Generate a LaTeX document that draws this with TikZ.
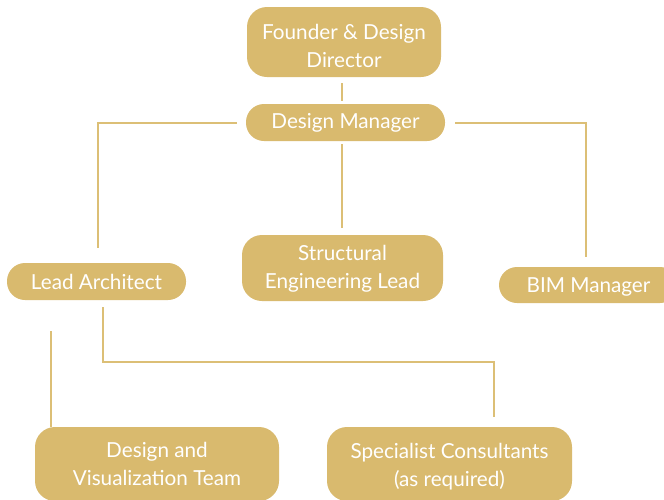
\documentclass[tikz,border=0pt]{standalone}
\usepackage{fontspec}
\setmainfont{Lato}
\usetikzlibrary{calc}
\definecolor{gold}{RGB}{217,186,110}
\definecolor{goldline}{RGB}{220,191,118}
\newcommand{\downby}[1]{\rule{0pt}{\dimexpr\fontcharht\font`A+#1\relax}}
\begin{document}
\begin{tikzpicture}[x=1pt,y=-1pt,
  box/.style={fill=gold,text=white,inner sep=0pt,align=center,
    font=\fontsize{20.7}{28}\selectfont},
  link/.style={draw=goldline,line width=2pt}]
\useasboundingbox (0,0) rectangle (664,499);
\node[box,minimum width=194pt,minimum height=70pt,rounded corners=20pt] (fd) at (344,42) {\downby{8pt}Founder \& Design\\Director};
\node[box,minimum width=199pt,minimum height=37pt,rounded corners=18pt] (dm) at (345.5,122.5) {Design Manager};
\node[box,minimum width=179pt,minimum height=37pt,rounded corners=18pt] (la) at (96.5,281.5) {Lead Architect};
\node[box,minimum width=201pt,minimum height=66pt,rounded corners=20pt] (sel) at (342.5,268) {\downby{2pt}Structural\\Engineering Lead};
\node[box,minimum width=179pt,minimum height=36pt,rounded corners=18pt] (bim) at (588.5,285) {\downby{4pt}BIM Manager};
\node[box,minimum width=244pt,minimum height=74pt,rounded corners=20pt] (viz) at (157,464) {\downby{1pt}Design and\\Visualization Team};
\node[box,minimum width=245pt,minimum height=74pt,rounded corners=20pt] (spc) at (449.5,464) {\downby{6pt}Specialist Consultants\\(as required)};
% connectors
\draw[link] ($(fd.south)+(-2,6)$) -- ($(dm.north)+(-3.5,-3)$);
\draw[link] ($(dm.south)+(-3.5,3)$) -- ($(sel.north)+(-0.5,-7)$);
\draw[link] ($(dm.west)+(-9,0.5)$) -| ($(la.north)+(1.5,-15)$);
\draw[link] ($(dm.east)+(10,0.5)$) -| ($(bim.north)+(-2.5,-10)$);
\coordinate (laA) at ($(la.south west)+(44,31)$);
\draw[link] (laA) -- (laA |- viz.north);
\coordinate (laB) at ($(la.south west)+(96,7)$);
\coordinate (spcT) at ($(spc.north)+(44.5,-10)$);
\draw[link] (laB) |- ($(laB)+(0,55)$) -| (spcT);
\end{tikzpicture}
\end{document}
